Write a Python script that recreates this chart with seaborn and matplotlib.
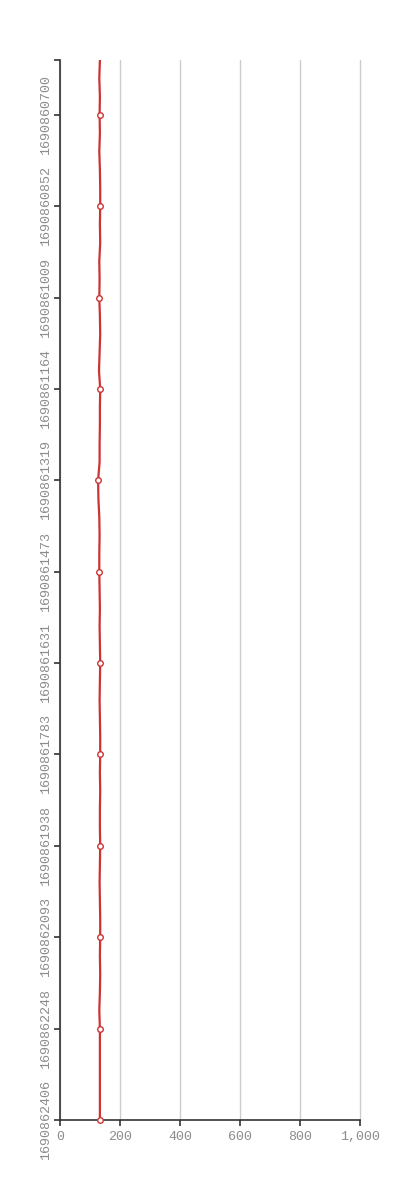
import matplotlib
matplotlib.use("Agg")
import matplotlib.pyplot as plt
import matplotlib.ticker as mticker
import seaborn as sns
import pandas as pd

# timestamps (categories, top to bottom) and the plotted value
timestamps = [
    1690860610, 1690860640, 1690860670, 1690860700, 1690860730, 1690860761,
    1690860791, 1690860822, 1690860852, 1690860883, 1690860915, 1690860946,
    1690860978, 1690861009, 1690861040, 1690861071, 1690861102, 1690861133,
    1690861164, 1690861195, 1690861226, 1690861257, 1690861288, 1690861319,
    1690861350, 1690861381, 1690861412, 1690861442, 1690861473, 1690861505,
    1690861536, 1690861568, 1690861599, 1690861631, 1690861661, 1690861692,
    1690861722, 1690861753, 1690861783, 1690861814, 1690861845, 1690861876,
    1690861907, 1690861938, 1690861969, 1690862000, 1690862031, 1690862062,
    1690862093, 1690862124, 1690862155, 1690862186, 1690862217, 1690862248,
    1690862280, 1690862311, 1690862343, 1690862374, 1690862406,
]
values = [
    133, 131, 133, 132, 133, 131, 133, 134, 134, 133,
    134, 131, 132, 131, 133, 134, 132, 130, 134, 133,
    133, 132, 132, 127, 128, 131, 132, 131, 131, 132,
    133, 132, 133, 134, 133, 132, 133, 134, 134, 133,
    134, 133, 133, 134, 133, 132, 133, 134, 134, 133,
    134, 133, 131, 133, 133, 133, 133, 133, 133,
]
tick_labels = [
    "1690860700", "1690860852", "1690861009", "1690861164", "1690861319",
    "1690861473", "1690861631", "1690861783", "1690861938", "1690862093",
    "1690862248", "1690862406",
]

df = pd.DataFrame({"ts": [str(t) for t in timestamps], "value": values})
df["pos"] = range(len(df))
marked = df[df["ts"].isin(tick_labels)]

sns.set_style("white")
plt.rcParams["font.family"] = ["Liberation Mono", "DejaVu Sans Mono"]

red = "#cc3333"
fig = plt.figure(figsize=(4, 12), dpi=100)
ax = fig.add_axes([0.15, 1 - 1120 / 1200, 0.75, 1060 / 1200])

sns.lineplot(data=df, x="value", y="pos", orient="y", sort=False,
             color=red, linewidth=1.6, ax=ax)
sns.scatterplot(data=marked, x="value", y="pos", ax=ax, s=16,
                facecolor="white", edgecolor=red, linewidth=1, zorder=5,
                clip_on=False)

ax.set_xlim(0, 1000)
ax.set_ylim(len(df) - 1, 0)
ax.set_xticks([0, 200, 400, 600, 800, 1000])
ax.xaxis.set_major_formatter(mticker.FuncFormatter(lambda v, p: f"{int(v):,}"))
ax.set_yticks([0] + list(marked["pos"]))
ax.set_yticklabels([""] + list(marked["ts"]), rotation=90, va="center")

ax.grid(axis="x", color="#cccccc", linewidth=1)
ax.grid(axis="y", visible=False)
for gl in ax.get_xgridlines():
    gl.set_clip_on(False)
ax.set_axisbelow(True)
for side in ["top", "right"]:
    ax.spines[side].set_visible(False)
for side in ["left", "bottom"]:
    ax.spines[side].set_color("#333333")
    ax.spines[side].set_linewidth(1.2)

ax.tick_params(axis="both", which="major", length=4, width=1.2,
               color="#333333", labelcolor="#8c8c8c", labelsize=9.6,
               left=True, bottom=True)
ax.tick_params(axis="y", pad=2)
ax.tick_params(axis="x", pad=4)
ax.set_xlabel("")
ax.set_ylabel("")

fig.savefig("out.png", dpi=100)
